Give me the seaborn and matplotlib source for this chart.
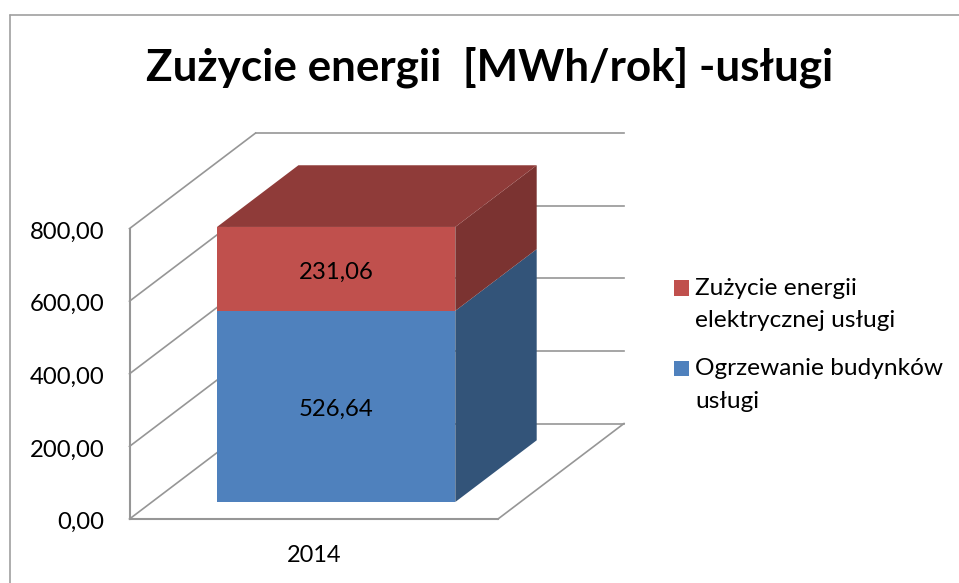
import matplotlib
matplotlib.use("Agg")
import matplotlib.pyplot as plt
from matplotlib.legend_handler import HandlerPatch
from matplotlib.lines import Line2D
from matplotlib.patches import Polygon, Patch, Rectangle
import pandas as pd
import seaborn as sns

title = "Zużycie energii  [MWh/rok] -usługi"
years = ["2014"]
heating = [526.64]
electricity = [231.06]
y_ticks = [0, 200, 400, 600, 800]
series_labels = ["Zużycie energii\nelektrycznej usługi", "Ogrzewanie budynków\nusługi"]

W, H = 959, 583
PX_PER_VAL = 0.363
BASE_PX = 502.0
CX_PX, BAR_W_PX = 336.15, 238.3
DEPTH_DX, DEPTH_DY = 126.0, 95.5
BAR_FRONT_D, BAR_BACK_D = 0.0, 81.4 / 126.0
WALL_FRONT_D = -17.0 / 95.5
WALL_BACK_D = WALL_FRONT_D + 1.0
LEFT_PX, RIGHT_PX = 129.5, 498.0
GRID = "#969696"
BLUE, BLUE_SIDE = "#4F81BD", "#335479"
RED, RED_TOP, RED_SIDE = "#C0504D", "#8F3B39", "#7B3331"

sns.set_theme(style="white")
plt.rcParams["font.family"] = ["Lato", "DejaVu Sans"]

df = pd.DataFrame({"year": years, "heating": heating, "electricity": electricity})

fig = plt.figure(figsize=(W / 100, H / 100), dpi=100, facecolor="white")
ax = fig.add_axes([0, 0, 1, 1])
ax.patch.set_alpha(0)

sns.barplot(data=df, x="year", y="heating", color=BLUE, width=1, saturation=1,
            errorbar=None, ax=ax, zorder=3, linewidth=0)
sns.barplot(data=df, x="year", y="electricity", color=RED, width=1, saturation=1,
            errorbar=None, ax=ax, zorder=3, linewidth=0, bottom=df["heating"].values)

ax.set_xlim(-CX_PX / BAR_W_PX, (W - CX_PX) / BAR_W_PX)
ax.set_ylim((BASE_PX - H) / PX_PER_VAL, BASE_PX / PX_PER_VAL)
ax.axis("off")


def proj(x, v, d):
    """Oblique projection: category x, value v, depth d -> data coordinates."""
    return x + d * DEPTH_DX / BAR_W_PX, v + d * DEPTH_DY / PX_PER_VAL


# wall corners as seen on the front edge of the floor
x_left = (LEFT_PX - CX_PX) / BAR_W_PX - WALL_FRONT_D * DEPTH_DX / BAR_W_PX
x_right = (RIGHT_PX - CX_PX) / BAR_W_PX - WALL_FRONT_D * DEPTH_DX / BAR_W_PX
top_v = max(y_ticks)


def seg(a, b, lw=1.2, z=1):
    ax.plot([a[0], b[0]], [a[1], b[1]], color=GRID, lw=lw, zorder=z, solid_capstyle="projecting")


# walls and floor
for v in y_ticks:
    seg(proj(x_left, v, WALL_FRONT_D), proj(x_left, v, WALL_BACK_D))
    seg(proj(x_left, v, WALL_BACK_D), proj(x_right, v, WALL_BACK_D))
seg(proj(x_left, 0, WALL_FRONT_D), proj(x_left, top_v, WALL_FRONT_D), lw=1.5)
seg(proj(x_left, 0, WALL_FRONT_D), proj(x_right, 0, WALL_FRONT_D), lw=1.5)
seg(proj(x_right, 0, WALL_FRONT_D), proj(x_right, 0, WALL_BACK_D))

# 3D faces of the stack
x0, x1 = 0 - 0.5, 0 + 0.5
h = heating[0]
t = heating[0] + electricity[0]
faces = [
    ([(x1, 0, BAR_FRONT_D), (x1, 0, BAR_BACK_D), (x1, h, BAR_BACK_D), (x1, h, BAR_FRONT_D)], BLUE_SIDE),
    ([(x1, h, BAR_FRONT_D), (x1, h, BAR_BACK_D), (x1, t, BAR_BACK_D), (x1, t, BAR_FRONT_D)], RED_SIDE),
    ([(x0, t, BAR_FRONT_D), (x1, t, BAR_FRONT_D), (x1, t, BAR_BACK_D), (x0, t, BAR_BACK_D)], RED_TOP),
]
for pts, col in faces:
    ax.add_patch(Polygon([proj(*p) for p in pts], closed=True, facecolor=col, edgecolor="none", zorder=3))

# text
TICK_FS = 17.2
LEG_FS = 17.6
dec = lambda v: f"{v:.2f}".replace(".", ",")
for v in y_ticks:
    px, py = proj(x_left, v, WALL_FRONT_D)
    ax.annotate(dec(v), (px, py), xytext=(-18.0, -2.6), textcoords="offset points",
                ha="right", va="center", fontsize=TICK_FS, color="black")
for centre, value in [(h / 2, h), (h + electricity[0] / 2, electricity[0])]:
    ax.annotate(dec(value), (0, centre), xytext=(0, -2.2), textcoords="offset points",
                ha="center", va="center", fontsize=TICK_FS, color="black", zorder=5)
fig.text(314.5 / W, 1 - 555 / H, years[0], ha="center", va="center", fontsize=TICK_FS - 0.3, color="black")
fig.text(489.5 / W, 1 - 67 / H, title, ha="center", va="center", fontsize=31.7, fontweight="bold", color="black")


# legend: swatch lines up with the first text line
def first_line_swatch(legend, orig_handle, xdescent, ydescent, width, height, fontsize):
    return Rectangle((xdescent, ydescent + 12.9), width, height)


handles = [Patch(facecolor=RED, edgecolor="none"), Patch(facecolor=BLUE, edgecolor="none")]
leg = fig.legend(handles, series_labels, loc="upper left", bbox_to_anchor=(674 / W, 1 - 278 / H),
                 frameon=False, fontsize=LEG_FS, handlelength=0.614, handleheight=0.614,
                 handletextpad=0.245, labelspacing=1.1, borderpad=0, borderaxespad=0,
                 labelcolor="black",
                 handler_map={Patch: HandlerPatch(patch_func=first_line_swatch)})
for txt in leg.get_texts():
    txt.set_linespacing(1.67)

# chart frame
fig.add_artist(Line2D([9.5 / W, 9.5 / W], [0, 1 - 14.5 / H], color="#A0A0A0", lw=1.2))
fig.add_artist(Line2D([9.5 / W, 1], [1 - 14.5 / H, 1 - 14.5 / H], color="#A0A0A0", lw=1.2))

fig.savefig("out.png", dpi=100)
